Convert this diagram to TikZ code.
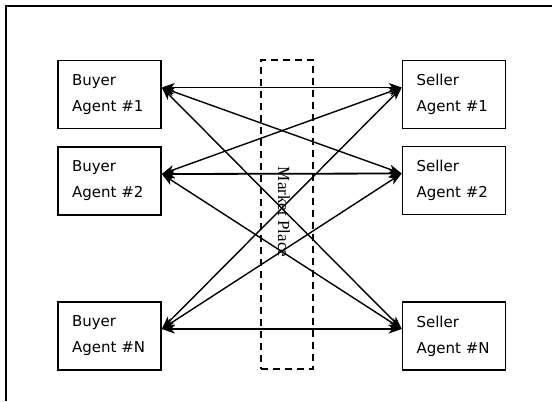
\documentclass[tikz,border=0pt]{standalone}
\usepackage{fontspec}
\setmainfont{Liberation Serif}
\newfontfamily\boxfont{DejaVu Sans}
\usetikzlibrary{arrows.meta}
\begin{document}
\begin{tikzpicture}[x=1bp,y=-1bp,
  agent/.style={draw, line width=1.6bp, minimum width=103bp, minimum height=68bp,
    text width=75bp, inner xsep=14bp, inner ysep=0pt, align=left,
    font=\boxfont\fontsize{15bp}{26bp}\selectfont},
  tip/.tip={Stealth[length=13bp,width=9bp,inset=3.5bp]},
  link/.style={line width=1.4bp, tip-tip},
  thinlink/.style={link, line width=1bp},
  market/.style={draw, dashed, dash pattern=on 7bp off 5bp, line width=1.4bp,
    minimum width=52bp, minimum height=309bp},
  frameline/.style={line width=1.2bp}]
\useasboundingbox (0,0) rectangle (552,401);
\draw[frameline] (552,6) -- (6,6) -- (6,401);

\node[market] (mp) at (287,214.5) {};
\node[rotate=-90, font=\fontsize{17bp}{20bp}\selectfont] (mplabel) at (284,212) {Market Place};

\node[agent] (b1) at (109.5,94.5) {Buyer\\Agent \#1};
\node[agent] (b2) at (109.5,181) {Buyer\\Agent \#2};
\node[agent] (bn) at (109.5,336) {Buyer\\Agent \#N};
\node[agent] (s1) at (454,94.5) {Seller\\Agent \#1};
\node[agent] (s2) at (454,180.5) {Seller\\Agent \#2};
\node[agent] (sn) at (454,336) {Seller\\Agent \#N};

\coordinate (pb1) at ([yshift=7bp]b1.east);
\coordinate (pb2) at ([yshift=7bp]b2.east);
\coordinate (pbn) at ([yshift=7bp]bn.east);
\coordinate (ps1) at ([yshift=7bp]s1.west);
\coordinate (ps2) at ([yshift=7bp]s2.west);
\coordinate (psn) at ([yshift=7bp]sn.west);

\draw[thinlink] (pb1) -- (ps1);
\draw[link] (pb1) -- (ps2);
\draw[link] (pb1) -- (psn);
\draw[link] (pb2) -- (ps1);
\draw[link, line width=1.8bp] (pb2) -- (ps2);
\draw[link] (pb2) -- (psn);
\draw[link] (pbn) -- (ps1);
\draw[link] (pbn) -- (ps2);
\draw[link, line width=1.8bp] (pbn) -- (psn);
\end{tikzpicture}
\end{document}
